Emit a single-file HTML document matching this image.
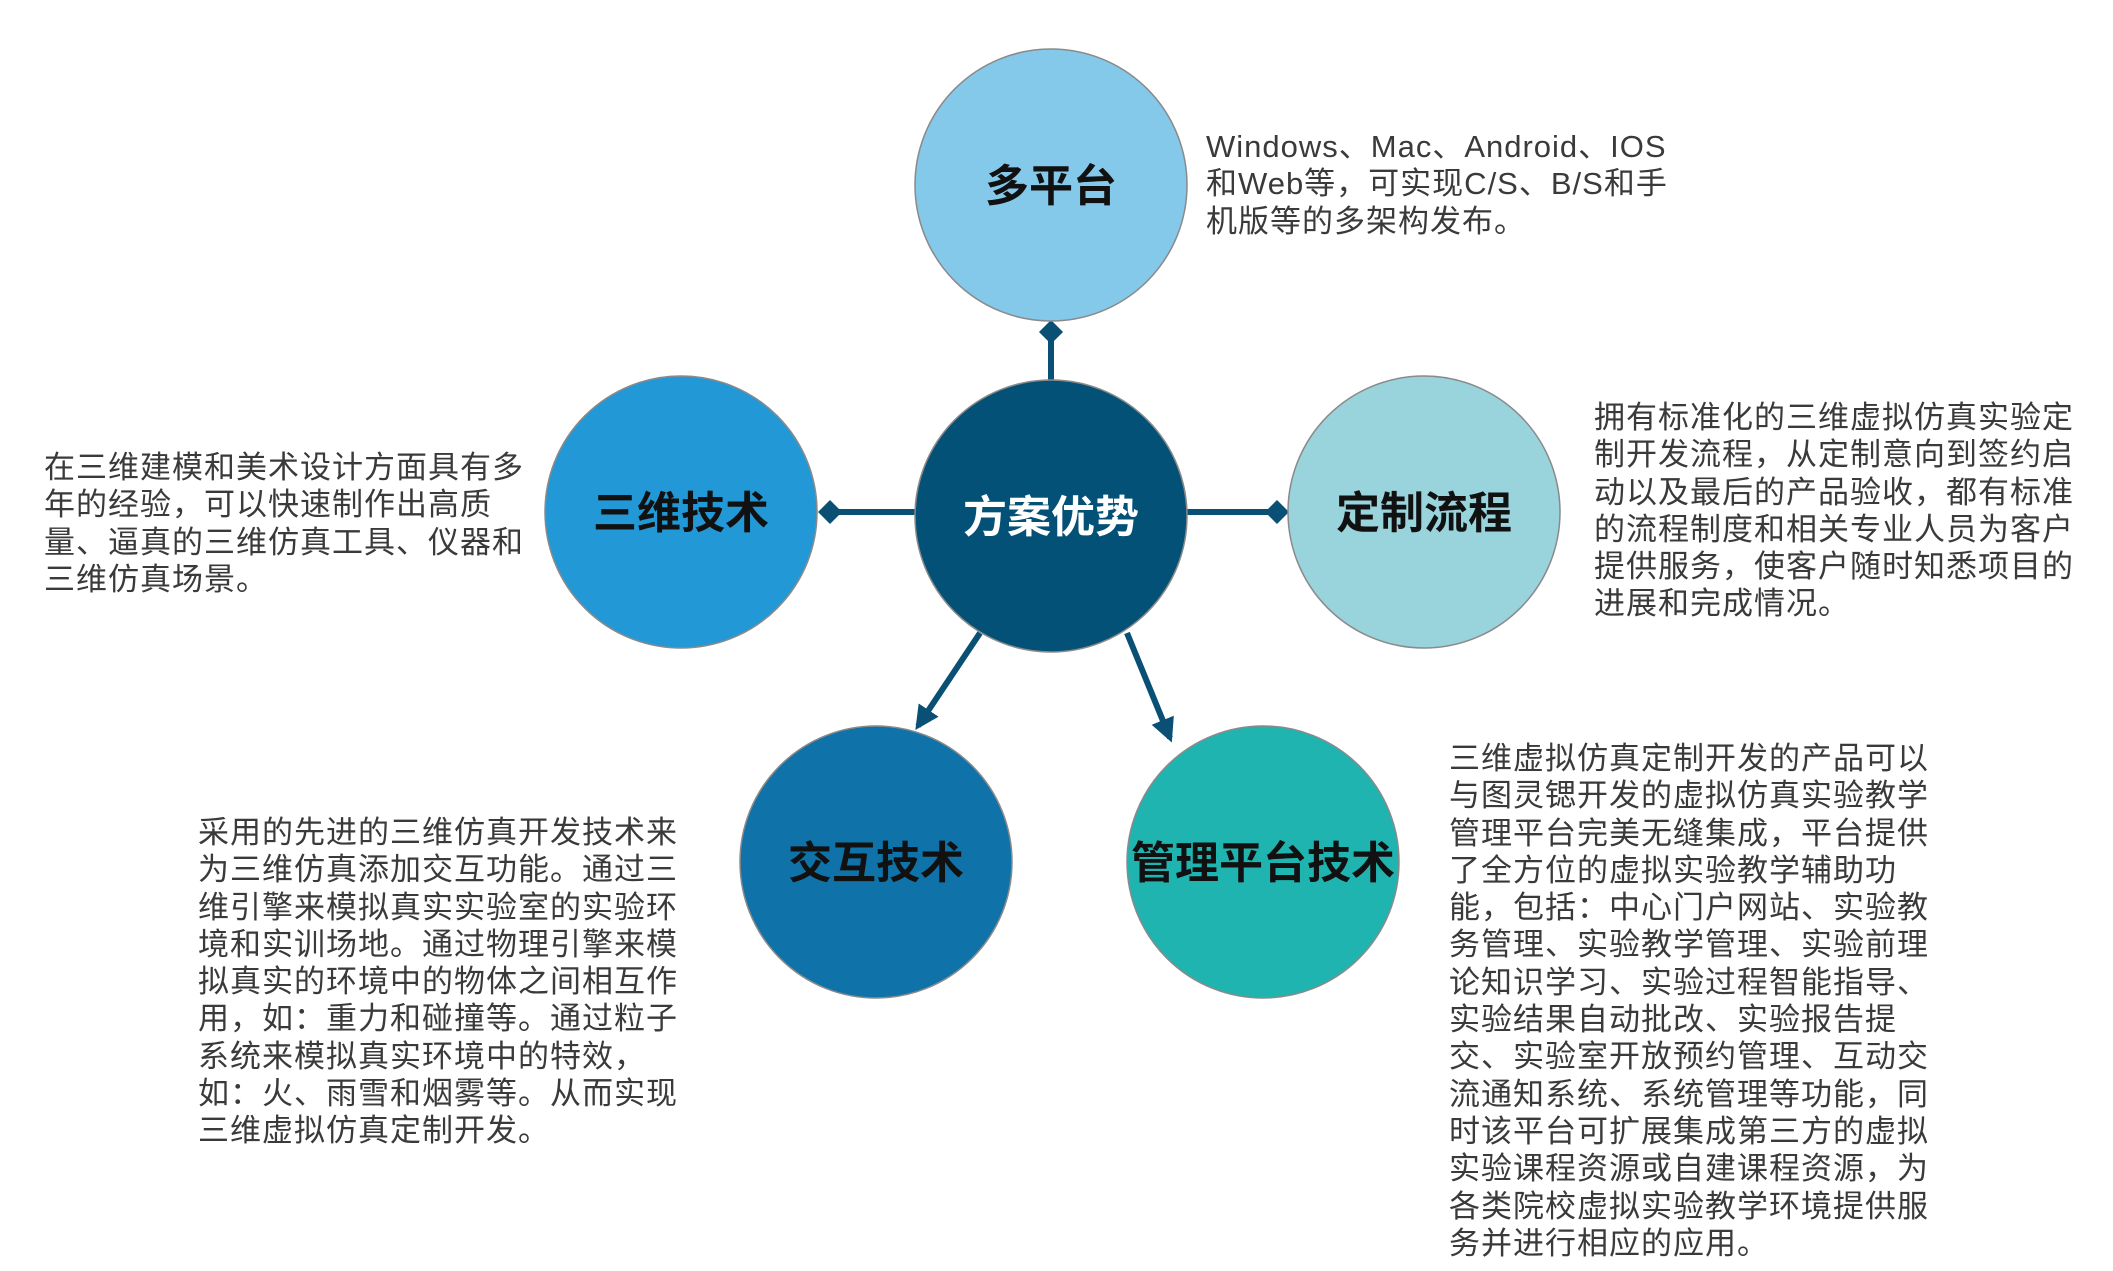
<!DOCTYPE html>
<html><head><meta charset="utf-8"><style>
html,body{margin:0;padding:0;background:#fff;}
#w{position:relative;width:2113px;height:1271px;overflow:hidden;}
.t{position:absolute;font-family:"Liberation Sans","Noto Sans CJK SC",sans-serif;font-size:31px;line-height:37.3px;color:#3a3a3a;white-space:nowrap;letter-spacing:1px;}
svg{position:absolute;left:0;top:0;}
svg text{font-family:"Liberation Sans","Noto Sans CJK SC",sans-serif;font-weight:bold;font-size:44px;}
</style></head><body><div id="w">
<svg width="2113" height="1271" viewBox="0 0 2113 1271">
<defs>
<marker id="dm" viewBox="0 0 10 10" refX="5" refY="5" markerWidth="4" markerHeight="4" orient="auto"><path d="M0,5 L5,0 L10,5 L5,10 Z" fill="#0a4f74"/></marker>
<marker id="am" viewBox="0 0 10 10" refX="8" refY="5" markerWidth="4" markerHeight="4" orient="auto"><path d="M0,0 L10,5 L0,10 Z" fill="#0a4f74"/></marker>
</defs>
<g stroke="#0a4f74" stroke-width="6" fill="none">
<line x1="1051" y1="381" x2="1051" y2="332" marker-end="url(#dm)"/>
<line x1="916" y1="512" x2="830" y2="512" marker-end="url(#dm)"/>
<line x1="1186" y1="512" x2="1277" y2="512" marker-end="url(#dm)"/>
<line x1="980" y1="633" x2="918" y2="726" marker-end="url(#am)"/>
<line x1="1127" y1="633" x2="1170" y2="738" marker-end="url(#am)"/>
</g>
<g stroke="#8a8a8a" stroke-width="1.5">
<circle cx="1051" cy="185" r="136" fill="#84c8ea"/>
<circle cx="681" cy="512" r="136" fill="#2299d6"/>
<circle cx="1424" cy="512" r="136" fill="#99d3dc"/>
<circle cx="1051" cy="516" r="136" fill="#045177"/>
<circle cx="876" cy="862" r="136" fill="#0f72a8"/>
<circle cx="1263" cy="862" r="136" fill="#1fb4b0"/>
</g>
<g text-anchor="middle" fill="#111">
<text x="1051" y="201">多平台</text>
<text x="681" y="528">三维技术</text>
<text x="1424" y="528">定制流程</text>
<text x="1051" y="532" fill="#fff">方案优势</text>
<text x="876" y="878">交互技术</text>
<text x="1263" y="878">管理平台技术</text>
</g>
</svg>
<div class="t" style="left:1206px;top:128px;">Windows、Mac、Android、IOS<br>和Web等，可实现C/S、B/S和手<br>机版等的多架构发布。</div>
<div class="t" style="left:1594px;top:399px;">拥有标准化的三维虚拟仿真实验定<br>制开发流程，从定制意向到签约启<br>动以及最后的产品验收，都有标准<br>的流程制度和相关专业人员为客户<br>提供服务，使客户随时知悉项目的<br>进展和完成情况。</div>
<div class="t" style="left:44px;top:449px;">在三维建模和美术设计方面具有多<br>年的经验，可以快速制作出高质<br>量、逼真的三维仿真工具、仪器和<br>三维仿真场景。</div>
<div class="t" style="left:198px;top:814px;">采用的先进的三维仿真开发技术来<br>为三维仿真添加交互功能。通过三<br>维引擎来模拟真实实验室的实验环<br>境和实训场地。通过物理引擎来模<br>拟真实的环境中的物体之间相互作<br>用，如：重力和碰撞等。通过粒子<br>系统来模拟真实环境中的特效，<br>如：火、雨雪和烟雾等。从而实现<br>三维虚拟仿真定制开发。</div>
<div class="t" style="left:1449px;top:740px;">三维虚拟仿真定制开发的产品可以<br>与图灵锶开发的虚拟仿真实验教学<br>管理平台完美无缝集成，平台提供<br>了全方位的虚拟实验教学辅助功<br>能，包括：中心门户网站、实验教<br>务管理、实验教学管理、实验前理<br>论知识学习、实验过程智能指导、<br>实验结果自动批改、实验报告提<br>交、实验室开放预约管理、互动交<br>流通知系统、系统管理等功能，同<br>时该平台可扩展集成第三方的虚拟<br>实验课程资源或自建课程资源，为<br>各类院校虚拟实验教学环境提供服<br>务并进行相应的应用。</div>
</div></body></html>
